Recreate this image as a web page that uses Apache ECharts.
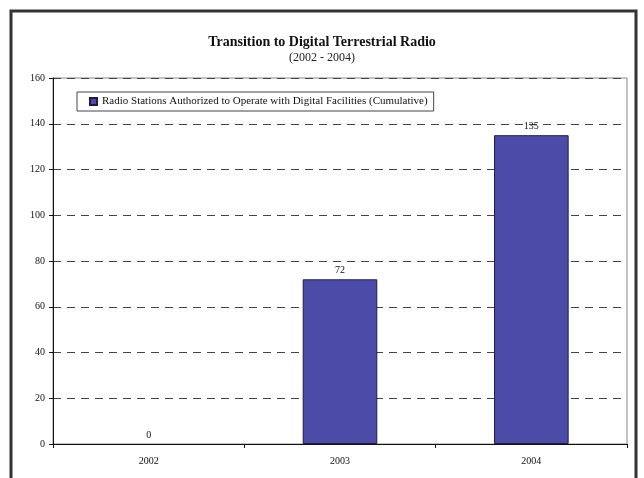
<!DOCTYPE html>
<html>
<head>
<meta charset="utf-8">
<script src="https://cdn.jsdelivr.net/npm/echarts@6/dist/echarts.min.js"></script>
<style>
html,body{margin:0;padding:0;background:#fff;}
#chart{width:644px;height:478px;}
</style>
</head>
<body>
<div id="chart"></div>
<script>
const categories = ['2002', '2003', '2004'];
const stations = [0, 72, 135];
const seriesName = 'Radio Stations Authorized to Operate with Digital Facilities (Cumulative)';
const titleText = 'Transition to Digital Terrestrial Radio';
const subtitleText = '(2002 - 2004)';

const serif = '"Liberation Serif", "DejaVu Serif", serif';
const chart = echarts.init(document.getElementById('chart'), null, {renderer: 'canvas'});
chart.setOption({
  animation: false,
  backgroundColor: '#fff',
  title: {
    text: titleText,
    subtext: subtitleText,
    left: 'center',
    top: 30,
    itemGap: 3,
    textStyle: {fontFamily: serif, fontSize: 14, fontWeight: 'bold', color: '#111'},
    subtextStyle: {fontFamily: serif, fontSize: 12, color: '#222'}
  },
  legend: {
    data: [seriesName],
    left: 77,
    top: 92,
    orient: 'horizontal',
    backgroundColor: '#fff',
    borderColor: '#444',
    borderWidth: 1,
    borderRadius: 0,
    padding: [4, 6, 4, 12],
    itemWidth: 7,
    itemHeight: 7,
    itemGap: 5,
    icon: 'rect',
    textStyle: {fontFamily: serif, fontSize: 11, color: '#111'}
  },
  grid: {
    left: 53, right: 17, top: 78, bottom: 34,
    show: true, borderColor: '#888', borderWidth: 1
  },
  xAxis: {
    type: 'category',
    data: categories,
    axisLine: {lineStyle: {color: '#111', width: 1}},
    axisTick: {show: true, length: 4, lineStyle: {color: '#111'}},
    axisLabel: {fontFamily: serif, fontSize: 10, color: '#111', margin: 12}
  },
  yAxis: {
    type: 'value',
    min: 0, max: 160, interval: 20,
    axisLine: {show: true, lineStyle: {color: '#111', width: 1}},
    axisTick: {show: true, length: 4, lineStyle: {color: '#111'}},
    axisLabel: {fontFamily: serif, fontSize: 10, color: '#111', margin: 8},
    splitLine: {show: true, lineStyle: {color: '#444', type: [8, 6], width: 1}}
  },
  series: [{
    name: seriesName,
    type: 'bar',
    data: stations.map(v => v === 0 ? {value: v, itemStyle: {borderWidth: 0}} : v),
    barWidth: '39%',
    itemStyle: {color: '#4c4ca8', borderColor: '#1c1c4c', borderWidth: 1},
    label: {show: true, position: 'top', distance: 4, fontFamily: serif, fontSize: 10, color: '#111'}
  }],
  graphic: [{
    type: 'rect',
    silent: true,
    z: 100,
    shape: {x: 11, y: 11, width: 625, height: 490},
    style: {fill: 'none', stroke: '#333', lineWidth: 3}
  }]
});
</script>
</body>
</html>
